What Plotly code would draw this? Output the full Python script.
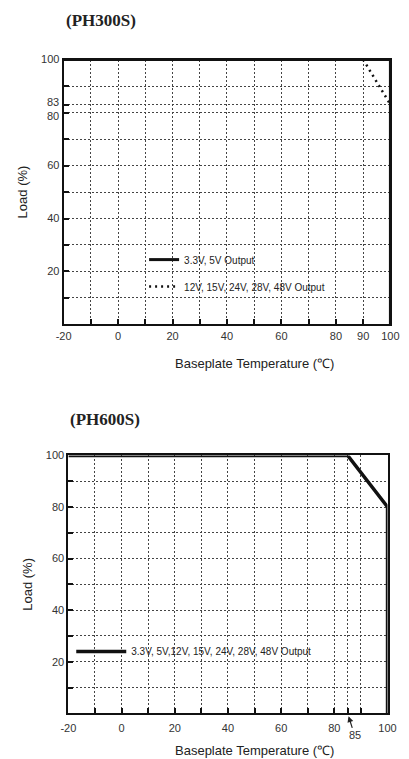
import plotly.graph_objects as go

# ---------------- data ----------------
# PH300S derating curves
ph300_solid_temp = [-20, 100, 100]
ph300_solid_load = [100, 100, 0]
ph300_dot_temp = [90, 100]
ph300_dot_load = [100, 83]
ph300_names = ["3.3V, 5V Output", "12V, 15V, 24V, 28V, 48V Output"]

# PH600S derating curve
ph600_temp = [-20, 85, 100, 100]
ph600_load = [100, 100, 80, 0]
ph600_name = "3.3V, 5V,12V, 15V, 24V, 28V, 48V Output"

# tick values / labels
ph300_xtick_vals = [-20, -10, 0, 10, 20, 30, 40, 50, 60, 70, 80, 90, 100]
ph300_xtick_text = ["-20", "", "0", "", "20", "", "40", "", "60", "", "80", "90", "100"]
ph300_ytick_vals = [0, 10, 20, 30, 40, 50, 60, 70, 80, 83, 90, 100]
ph300_ytick_text = ["", "", "20", "", "40", "", "60", "", "", "", "", "100"]
ph300_close_y = [83, 80]  # labelled separately, pushed apart as in the original

ph600_xtick_vals = [-20, -10, 0, 10, 20, 30, 40, 50, 60, 70, 80, 85, 90, 100]
ph600_xtick_text = ["-20", "", "0", "", "20", "", "40", "", "60", "", "80", "", "", "100"]
ph600_ytick_vals = [0, 10, 20, 30, 40, 50, 60, 70, 80, 90, 100]
ph600_ytick_text = ["", "", "20", "", "40", "", "60", "", "80", "", "100"]
ph600_special_x = 85

x_title = "Baseplate Temperature (\u2103)"
y_title = "Load (%)"
titles = ["(PH300S)", "(PH600S)"]

W, H = 409, 759
FONT = "Liberation Sans, Arial, sans-serif"
TICK_COLOR = "#333"

fig = go.Figure()

fig.add_trace(go.Scatter(x=ph300_solid_temp, y=ph300_solid_load, mode="lines",
                         name=ph300_names[0], line=dict(color="#111", width=3),
                         xaxis="x", yaxis="y", legend="legend", legendgroup="a"))
fig.add_trace(go.Scatter(x=ph300_dot_temp, y=ph300_dot_load, mode="lines",
                         name=ph300_names[1], line=dict(color="#111", width=2.5, dash="2px,4px"),
                         xaxis="x", yaxis="y", legend="legend", legendgroup="b"))
fig.add_trace(go.Scatter(x=ph600_temp, y=ph600_load, mode="lines",
                         name=ph600_name, line=dict(color="#111", width=3.5),
                         xaxis="x2", yaxis="y2", legend="legend2"))


def px_dom_x(a, b):
    return [a / W, b / W]


def px_dom_y(top, bottom):
    return [1 - bottom / H, 1 - top / H]


common_axis = dict(
    showline=True, linecolor="#111", linewidth=2, mirror=True,
    ticks="inside", ticklen=5, tickwidth=2, tickcolor="#111",
    showgrid=True, gridcolor="#444", gridwidth=1, griddash="2px,2px",
    zeroline=False, tickfont=dict(family=FONT, size=11, color=TICK_COLOR),
    tickmode="array",
)

fig.update_layout(
    width=W, height=H, autosize=False,
    margin=dict(l=0, r=0, t=0, b=0),
    paper_bgcolor="white", plot_bgcolor="white",
    font=dict(family=FONT, color="#222"),
    xaxis=dict(common_axis, domain=px_dom_x(58, 399), range=[-20, 100], anchor="y",
               tickvals=ph300_xtick_vals, ticktext=ph300_xtick_text),
    yaxis=dict(common_axis, domain=px_dom_y(54, 321), range=[0, 100], anchor="x",
               tickvals=ph300_ytick_vals, ticktext=ph300_ytick_text,
               title=dict(text=y_title, font=dict(size=13, color="#222"), standoff=10)),
    xaxis2=dict(common_axis, domain=px_dom_x(63, 396), range=[-20, 100], anchor="y2",
                tickvals=ph600_xtick_vals, ticktext=ph600_xtick_text, ticklabelstandoff=3),
    yaxis2=dict(common_axis, domain=px_dom_y(453, 713), range=[0, 100], anchor="x2",
                tickvals=ph600_ytick_vals, ticktext=ph600_ytick_text,
                title=dict(text=y_title, font=dict(size=13, color="#222"), standoff=10)),
    legend=dict(x=142 / W, y=1 - 241 / H, xanchor="left", yanchor="top",
                bgcolor="rgba(0,0,0,0)", borderwidth=0, tracegroupgap=8,
                font=dict(family=FONT, size=10, color="#222")),
    legend2=dict(x=66 / W, y=1 - 636 / H, xanchor="left", yanchor="top",
                 bgcolor="rgba(0,0,0,0)", borderwidth=0, itemwidth=50,
                 font=dict(family=FONT, size=10, color="#222")),
    showlegend=True,
)

# chart titles
fig.add_annotation(text="<b>" + titles[0] + "</b>", x=58 / W, y=1 - 15 / H,
                   xref="paper", yref="paper", xanchor="left", yanchor="middle",
                   showarrow=False,
                   font=dict(family="Liberation Serif, serif", size=17, color="#222"))
fig.add_annotation(text="<b>" + titles[1] + "</b>", x=63 / W, y=1 - 417 / H,
                   xref="paper", yref="paper", xanchor="left", yanchor="middle",
                   showarrow=False,
                   font=dict(family="Liberation Serif, serif", size=17, color="#222"))

# x axis titles (set right of centre, as in the original)
for yy in (360, 750):
    fig.add_annotation(text=x_title, x=257 / W, y=1 - yy / H, xref="paper", yref="paper",
                       xanchor="center", yanchor="middle", showarrow=False,
                       font=dict(family=FONT, size=13, color="#222"))

# "83" and "80" labels on PH300S y axis
for val, shift in zip(ph300_close_y, (3, -3)):
    fig.add_annotation(text=str(val), x=0, xref="x domain", y=val, yref="y",
                       xanchor="right", yanchor="middle", xshift=-3, yshift=shift,
                       showarrow=False, font=dict(family=FONT, size=11, color=TICK_COLOR))

# 85 marker on PH600S
fig.add_annotation(text=str(ph600_special_x), x=ph600_special_x, y=0, xref="x2", yref="y2",
                   showarrow=True, arrowhead=2, arrowsize=1, arrowwidth=1.2,
                   arrowcolor="#222", ax=7, ay=22, standoff=3,
                   font=dict(family=FONT, size=11, color=TICK_COLOR))

fig.write_html("out.html", config={"displayModeBar": False},
               post_script="document.body.style.margin='0';")
